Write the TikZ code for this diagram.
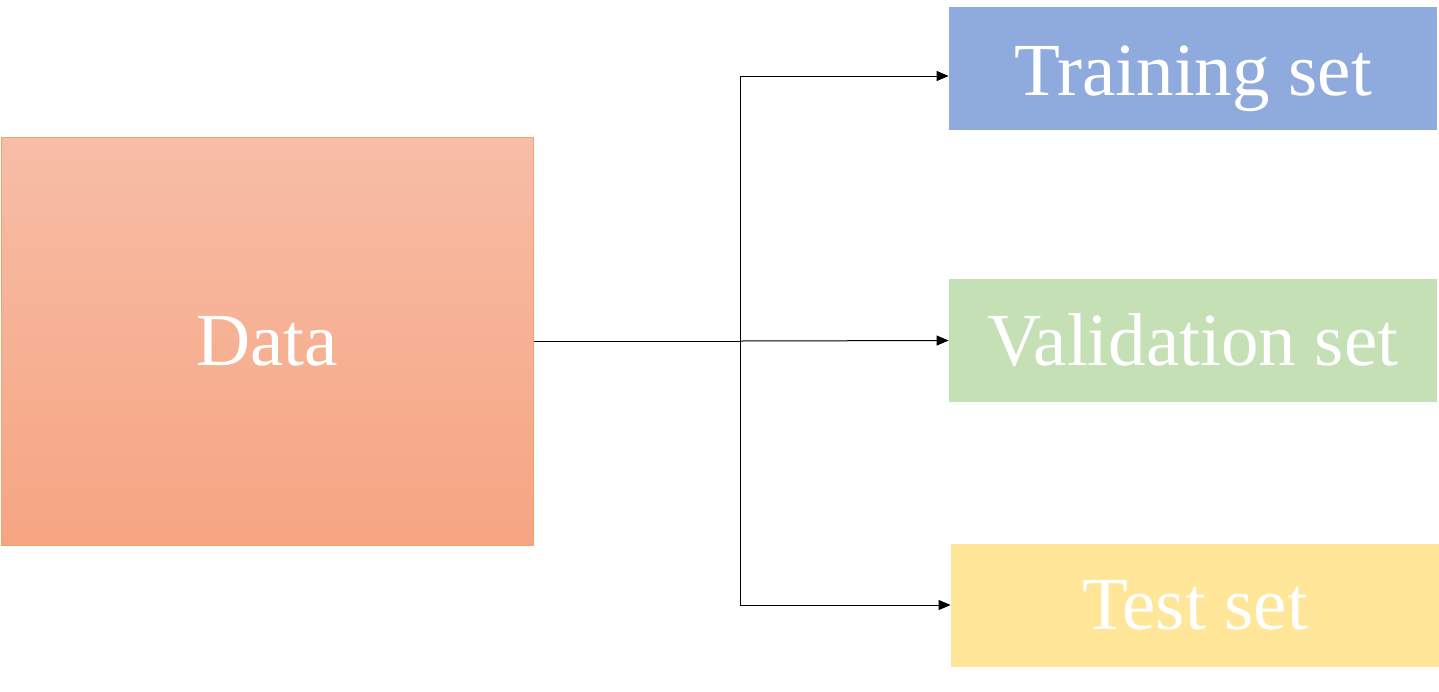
\documentclass[tikz,border=0pt]{standalone}
\usepackage{fontspec}
\setmainfont{Liberation Serif}
\usetikzlibrary{arrows.meta,positioning}
\definecolor{dataTop}{HTML}{F7BDA6}
\definecolor{dataBot}{HTML}{F6A582}
\definecolor{dataLine}{HTML}{F2A06E}
\definecolor{trainFill}{HTML}{8FAADC}
\definecolor{validFill}{HTML}{C5E0B4}
\definecolor{testFill}{HTML}{FFE699}
\tikzset{
  setbox/.style={minimum width=244pt, minimum height=61.5pt, inner sep=0pt,
    text=white, font=\fontsize{37.5}{45}\selectfont},
  link/.style={line width=0.5pt, -{Triangle[length=6pt,width=5pt]}}
}
\begin{document}
\begin{tikzpicture}[x=0.5pt,y=-0.5pt]
  \useasboundingbox (0,0) rectangle (1439,691);
  \node [draw=dataLine, line width=0.5pt, top color=dataTop, bottom color=dataBot,
    minimum width=266pt, minimum height=204pt, inner sep=0pt,
    text=white, font=\fontsize{37.5}{45}\selectfont] (data) at (267,341) {Data};
  \node [setbox, fill=trainFill] (train) at (1193,68.5)
    {\raisebox{-5pt}[\height][\depth]{Training set}};
  \node [setbox, fill=validFill] (valid) at (1193,340.5) {Validation set};
  \node [setbox, fill=testFill] (test) at (1195,605) {Test set};
  \coordinate (fork) at (740,341);
  \draw [line width=0.5pt] (data.east) -- (fork);
  \draw [link] (fork) |- ([yshift=-3.75pt]train.west);
  \draw [link] (fork) -- (valid.west);
  \draw [link] (fork) |- (test.west);
\end{tikzpicture}
\end{document}
